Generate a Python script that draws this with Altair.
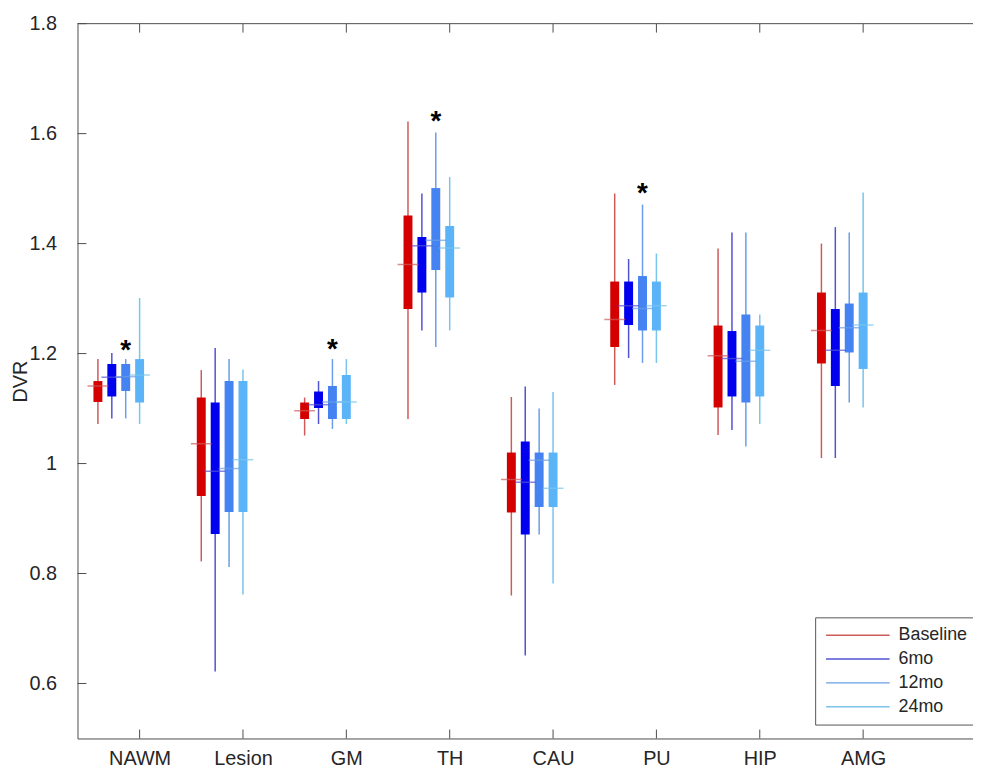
import json
import altair as alt
import pandas as pd

# ---------------- data ----------------
regions = ["NAWM", "Lesion", "GM", "TH", "CAU", "PU", "HIP", "AMG"]
timepoints = ["Baseline", "6mo", "12mo", "24mo"]

whisker_low = {
    "Baseline": [1.072, 0.822, 1.051, 1.081, 0.760, 1.143, 1.052, 1.010],
    "6mo":      [1.082, 0.622, 1.072, 1.242, 0.651, 1.192, 1.061, 1.010],
    "12mo":     [1.082, 0.812, 1.063, 1.212, 0.871, 1.183, 1.031, 1.111],
    "24mo":     [1.072, 0.762, 1.072, 1.242, 0.782, 1.183, 1.072, 1.102],
}
box_low = {
    "Baseline": [1.112, 0.941, 1.081, 1.281, 0.911, 1.212, 1.102, 1.182],
    "6mo":      [1.122, 0.872, 1.101, 1.311, 0.871, 1.252, 1.122, 1.141],
    "12mo":     [1.132, 0.912, 1.081, 1.352, 0.921, 1.242, 1.111, 1.202],
    "24mo":     [1.111, 0.912, 1.081, 1.302, 0.921, 1.242, 1.122, 1.172],
}
median = {
    "Baseline": [1.141, 1.036, 1.096, 1.362, 0.971, 1.262, 1.196, 1.242],
    "6mo":      [1.157, 0.986, 1.107, 1.396, 0.966, 1.287, 1.191, 1.206],
    "12mo":     [1.158, 0.991, 1.112, 1.406, 1.006, 1.282, 1.186, 1.247],
    "24mo":     [1.161, 1.007, 1.112, 1.392, 0.955, 1.287, 1.206, 1.252],
}
box_high = {
    "Baseline": [1.150, 1.120, 1.111, 1.451, 1.020, 1.331, 1.251, 1.311],
    "6mo":      [1.181, 1.111, 1.131, 1.412, 1.040, 1.331, 1.241, 1.281],
    "12mo":     [1.181, 1.150, 1.141, 1.501, 1.020, 1.341, 1.271, 1.291],
    "24mo":     [1.190, 1.150, 1.161, 1.432, 1.020, 1.331, 1.251, 1.311],
}
whisker_high = {
    "Baseline": [1.190, 1.170, 1.120, 1.622, 1.121, 1.491, 1.391, 1.400],
    "6mo":      [1.201, 1.210, 1.150, 1.491, 1.140, 1.372, 1.420, 1.430],
    "12mo":     [1.190, 1.190, 1.190, 1.602, 1.100, 1.471, 1.420, 1.420],
    "24mo":     [1.301, 1.171, 1.190, 1.521, 1.130, 1.382, 1.271, 1.493],
}

sig_regions = ["NAWM", "GM", "TH", "PU"]
sig_timepoint = "12mo"
sig_y = [1.213, 1.215, 1.630, 1.500]

y_ticks = [0.6, 0.8, 1.0, 1.2, 1.4, 1.6, 1.8]

# ---------------- layout / style ----------------
X_MIN, X_MAX = 0.399, 9.063
Y_MIN, Y_MAX = 0.5, 1.8
W, H = 902, 720
offsets = {"Baseline": -0.4035, "6mo": -0.269, "12mo": -0.1345, "24mo": 0.0}
line_colors = ["#cf5a5a", "#5252d2", "#6a9ee6", "#78c4ec"]
box_colors = ["#d40000", "#0000ee", "#4583f2", "#5cb4f8"]
FONT = "Liberation Sans"
AX = "#4d4d4d"
TXT = "#262626"

rows = []
for t in timepoints:
    for i, r in enumerate(regions):
        rows.append({
            "region": r, "timepoint": t, "tp_box": t,
            "pos": i + 1 + offsets[t],
            "wlo": whisker_low[t][i], "blo": box_low[t][i],
            "med": median[t][i], "bhi": box_high[t][i], "whi": whisker_high[t][i],
        })
df = pd.DataFrame(rows)

sig_df = pd.DataFrame({
    "pos": [regions.index(r) + 1 + offsets[sig_timepoint] for r in sig_regions],
    "y": sig_y,
})

xs = alt.Scale(domain=[X_MIN, X_MAX], nice=False, zero=False)
ys = alt.Scale(domain=[Y_MIN, Y_MAX], nice=False, zero=False)

label_expr = json.dumps(regions) + "[datum.value - 1]"

x_axis = alt.Axis(values=list(range(1, len(regions) + 1)), labelExpr=label_expr,
                  title=None, grid=False, ticks=False, tickSize=0, labelPadding=10,
                  labelFont=FONT, labelFontSize=20, labelColor=TXT,
                  domainColor=AX, domainWidth=1)
y_axis = alt.Axis(values=y_ticks, format="~g", title="DVR", grid=False, ticks=False,
                  tickSize=0, labelPadding=21, labelFont=FONT, labelFontSize=20,
                  labelColor=TXT, domainColor=AX, domainWidth=1,
                  titleFont=FONT, titleFontSize=20, titleFontWeight="normal",
                  titleColor=TXT, titleX=-57, titleY=H / 2, titleAngle=-90,
                  titleBaseline="middle", titleAlign="center")

color_line = alt.Color(
    "timepoint:N", sort=timepoints,
    scale=alt.Scale(domain=timepoints, range=line_colors),
    legend=alt.Legend(title=None, orient="none", legendX=743, legendY=598,
                      symbolType="stroke", symbolSize=4096, symbolStrokeWidth=1.5,
                      clipHeight=24, rowPadding=0, padding=6, symbolOffset=4,
                      labelOffset=8, labelFont=FONT, labelFontSize=18,
                      labelColor=TXT, strokeColor="#555555", fillColor="white"),
)

base = alt.Chart(df)

whiskers = base.mark_rule(strokeWidth=1.5).encode(
    x=alt.X("pos:Q", scale=xs, axis=x_axis),
    y=alt.Y("wlo:Q", scale=ys, axis=y_axis),
    y2="whi:Q",
    color=color_line,
)

boxes = base.mark_rule(strokeWidth=9, strokeCap="butt").encode(
    x=alt.X("pos:Q", scale=xs),
    y=alt.Y("blo:Q", scale=ys),
    y2="bhi:Q",
    color=alt.Color("tp_box:N", scale=alt.Scale(domain=timepoints, range=box_colors),
                    legend=None),
)

medians = base.mark_tick(orient="horizontal", size=21, thickness=1.5).encode(
    x=alt.X("pos:Q", scale=xs),
    y=alt.Y("med:Q", scale=ys),
    color=alt.Color("timepoint:N", scale=alt.Scale(domain=timepoints, range=line_colors),
                    legend=None),
)

stars = alt.Chart(sig_df).mark_text(
    text="*", font=FONT, fontSize=28, fontWeight="bold", color="black",
    baseline="alphabetic", dy=13,
).encode(x=alt.X("pos:Q", scale=xs), y=alt.Y("y:Q", scale=ys))

# frame: top border and inward ticks (MATLAB style)
tick_len_x = 9 / W * (X_MAX - X_MIN)
tick_len_y = 9 / H * (Y_MAX - Y_MIN)

ytick_df = pd.DataFrame({"y": y_ticks, "x0": X_MIN, "x1": X_MIN + tick_len_x})
ytick_rules = alt.Chart(ytick_df).mark_rule(color=AX, strokeWidth=1).encode(
    x=alt.X("x0:Q", scale=xs), x2="x1:Q", y=alt.Y("y:Q", scale=ys))

xpos = list(range(1, len(regions) + 1))
xtick_df = pd.DataFrame({
    "x": xpos + xpos,
    "y0": [Y_MIN] * len(xpos) + [Y_MAX] * len(xpos),
    "y1": [Y_MIN + tick_len_y] * len(xpos) + [Y_MAX - tick_len_y] * len(xpos),
})
xtick_rules = alt.Chart(xtick_df).mark_rule(color=AX, strokeWidth=1).encode(
    x=alt.X("x:Q", scale=xs), y=alt.Y("y0:Q", scale=ys), y2="y1:Q")

top_df = pd.DataFrame({"x0": [X_MIN], "x1": [X_MAX], "y": [Y_MAX]})
top_rule = alt.Chart(top_df).mark_rule(color=AX, strokeWidth=1).encode(
    x=alt.X("x0:Q", scale=xs), x2="x1:Q", y=alt.Y("y:Q", scale=ys))

chart = alt.layer(
    whiskers, boxes, medians, stars, ytick_rules, xtick_rules, top_rule
).resolve_scale(color="independent").properties(
    width=W, height=H,
    autosize=alt.AutoSizeParams(type="none"),
    padding={"left": 70, "top": 13, "right": 0, "bottom": 32},
    background="white",
).configure_view(stroke=None)

chart.save("out.html", embed_options={"renderer": "svg", "actions": False})
